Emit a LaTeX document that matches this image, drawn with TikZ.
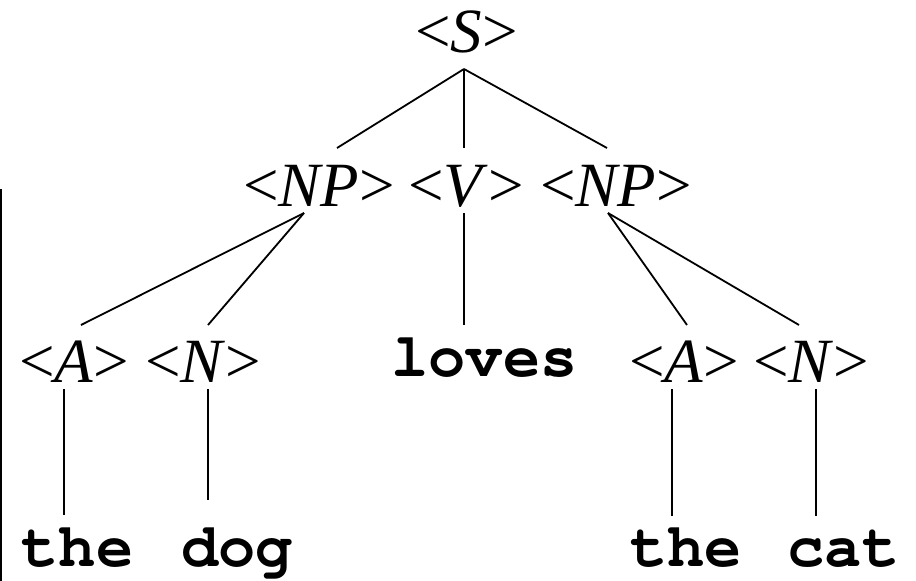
\documentclass[tikz,border=0pt]{standalone}
\usepackage[T1]{fontenc}
\usepackage{fontspec}
\setmainfont{Liberation Serif}
\begin{document}
\begin{tikzpicture}[x=1pt,y=-1pt,
  nt/.style={inner sep=0pt,anchor=base,font=\fontsize{63}{70}\selectfont},
  term/.style={inner sep=0pt,anchor=base,font=\fontsize{62}{70}\usefont{T1}{pcr}{b}{n}},
  edge/.style={line width=1.8pt}]
\useasboundingbox (0,0) rectangle (916,581);
% nodes
\node[nt] (s) at (466.5,52) {<\textit{S}>};
\node[nt] (np1) at (319,206) {<\textit{NP}>};
\node[nt] (v) at (466,206) {<\textit{V}>};
\node[nt] (np2) at (616,206) {<\textit{NP}>};
\node[nt] (a1) at (74,382) {<\textit{A}>};
\node[nt] (n1) at (203,382) {<\textit{N}>};
\node[term] (loves) at (484.5,376) {loves};
\node[nt] (a2) at (684,382) {<\textit{A}>};
\node[nt] (n2) at (811,382) {<\textit{N}>};
\node[term] (the1) at (77.5,566) {the};
\node[term] (dog) at (237,566) {dog};
\node[term] (the2) at (686,566) {the};
\node[term] (cat) at (843.5,566) {cat};
% connector end points
\coordinate (s-b) at (464,69);
\coordinate (np1-t) at (337,148);
\coordinate (v-t) at (464,148);
\coordinate (np2-t) at (607,148);
\coordinate (np1-b) at (304,213);
\coordinate (v-b) at (464,213);
\coordinate (np2-b) at (608,213);
\coordinate (a1-t) at (81,325);
\coordinate (n1-t) at (208,325);
\coordinate (loves-t) at (464,325);
\coordinate (a2-t) at (687,325);
\coordinate (n2-t) at (799,325);
\coordinate (a1-b) at (64,389);
\coordinate (n1-b) at (208,389);
\coordinate (a2-b) at (672,389);
\coordinate (n2-b) at (816,389);
\coordinate (the1-t) at (64,515);
\coordinate (dog-t) at (208,500);
\coordinate (the2-t) at (672,516);
\coordinate (cat-t) at (816,516);
% connectors
\draw[edge] (s-b) -- (np1-t);
\draw[edge] (s-b) -- (v-t);
\draw[edge] (s-b) -- (np2-t);
\draw[edge] (np1-b) -- (a1-t);
\draw[edge] (np1-b) -- (n1-t);
\draw[edge] (v-b) -- (loves-t);
\draw[edge] (np2-b) -- (a2-t);
\draw[edge] (np2-b) -- (n2-t);
\draw[edge] (a1-b) -- (the1-t);
\draw[edge] (n1-b) -- (dog-t);
\draw[edge] (a2-b) -- (the2-t);
\draw[edge] (n2-b) -- (cat-t);
% left border line
\draw[line width=2pt] (1,189) -- (1,581);
\end{tikzpicture}
\end{document}
